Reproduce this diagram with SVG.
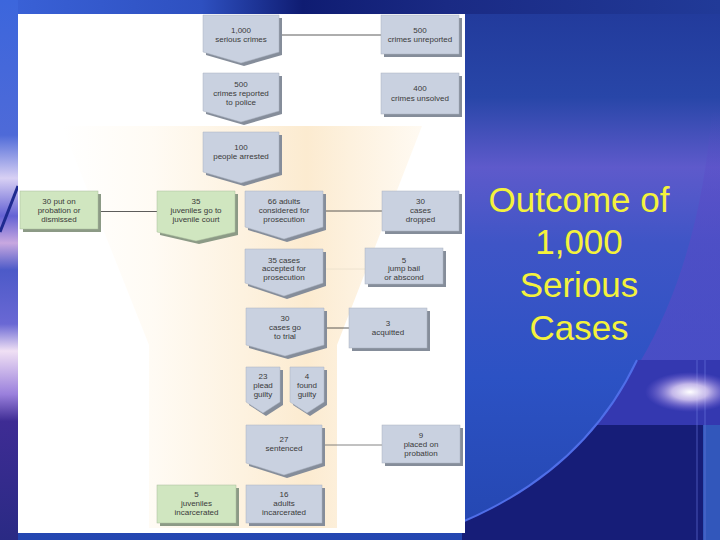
<svg xmlns="http://www.w3.org/2000/svg" width="720" height="540" viewBox="0 0 720 540">
<defs>
<style>
.box{fill:#c9d1e0;stroke:#aab2c0;stroke-width:0.5}
.gbox{fill:#d0e6c0;stroke:#a8bc9c;stroke-width:0.5}
.sh{fill:#858d9a}
.gsh{fill:#8c9a86}
.t{font-family:"Liberation Sans",Arial,sans-serif;font-size:8px;fill:#3a3a3a;text-anchor:middle}
.conn{stroke:#333;stroke-width:0.8;fill:none}
.title{font-family:"Liberation Sans",Arial,sans-serif;font-size:35px;fill:#f4f23c;text-anchor:middle}
</style>
<linearGradient id="bg" x1="0" y1="0" x2="0" y2="1">
<stop offset="0" stop-color="#21399a"/>
<stop offset="0.18" stop-color="#2846a8"/>
<stop offset="0.31" stop-color="#5e5acb"/>
<stop offset="0.45" stop-color="#3f55c6"/>
<stop offset="0.7" stop-color="#2c52c4"/>
<stop offset="1" stop-color="#2446b0"/>
</linearGradient>
<linearGradient id="leftStrip" x1="0" y1="0" x2="0" y2="1">
<stop offset="0" stop-color="#3c66dc"/>
<stop offset="0.25" stop-color="#4e6ad8"/>
<stop offset="0.33" stop-color="#d8d0f4"/>
<stop offset="0.4" stop-color="#6462d4"/>
<stop offset="0.45" stop-color="#c8a8e0"/>
<stop offset="0.5" stop-color="#4c5ac8"/>
<stop offset="0.6" stop-color="#6a68d4"/>
<stop offset="0.65" stop-color="#f0e0f4"/>
<stop offset="0.73" stop-color="#9a80dc"/>
<stop offset="0.78" stop-color="#3e2c94"/>
<stop offset="1" stop-color="#2a2a84"/>
</linearGradient>
<linearGradient id="topStrip" x1="0" y1="0" x2="1" y2="0">
<stop offset="0" stop-color="#3a62d8"/>
<stop offset="0.28" stop-color="#2e50c0"/>
<stop offset="0.42" stop-color="#0f1c72"/>
<stop offset="0.62" stop-color="#1a2a84"/>
<stop offset="1" stop-color="#213a98"/>
</linearGradient>
<linearGradient id="funnel" gradientUnits="userSpaceOnUse" x1="62" y1="0" x2="422" y2="0">
<stop offset="0" stop-color="#ffffff"/>
<stop offset="0.25" stop-color="#fffbf4"/>
<stop offset="0.5" stop-color="#fdf2e0"/>
<stop offset="0.68" stop-color="#fcebd0"/>
<stop offset="0.8" stop-color="#fdf1de"/>
<stop offset="1" stop-color="#fffaf2"/>
</linearGradient>
<linearGradient id="purpleSide" x1="0" y1="0" x2="0" y2="1">
<stop offset="0" stop-color="#5a4ac6" stop-opacity="0"/>
<stop offset="0.35" stop-color="#5a4ac6" stop-opacity="0.5"/>
<stop offset="1" stop-color="#5a4ac6" stop-opacity="0.6"/>
</linearGradient>
<radialGradient id="glare" cx="0.5" cy="0.5" r="0.5">
<stop offset="0" stop-color="#ffffff" stop-opacity="1"/>
<stop offset="0.4" stop-color="#e8d8f8" stop-opacity="0.8"/>
<stop offset="1" stop-color="#8a70e0" stop-opacity="0"/>
</radialGradient>
<clipPath id="arcClip">
<path d="M637,360 Q585,470 462,522 L462,540 L720,540 L720,360 Z"/>
</clipPath>
</defs>

<!-- background -->
<rect x="0" y="0" width="720" height="540" fill="url(#bg)"/>
<path d="M712,110 Q700,260 640,362 L720,362 L720,110 Z" fill="url(#purpleSide)"/>
<path d="M637,360 Q585,470 462,522 L462,540 L720,540 L720,360 Z" fill="#3438b0"/>
<rect x="462" y="425" width="258" height="115" fill="#161d78" clip-path="url(#arcClip)"/>
<path d="M637,360 Q585,470 462,522" stroke="#4f6ee8" stroke-width="2" fill="none"/>
<rect x="703" y="425" width="17" height="115" fill="#3a66cc" opacity="0.8"/>
<line x1="697" y1="360" x2="697" y2="540" stroke="#6a7ae0" stroke-width="1" opacity="0.6"/>
<line x1="705" y1="360" x2="705" y2="540" stroke="#6a7ae0" stroke-width="1" opacity="0.6"/>
<ellipse cx="690" cy="392" rx="45" ry="20" fill="url(#glare)"/>
<rect x="0" y="0" width="720" height="14" fill="url(#topStrip)"/>
<rect x="0" y="0" width="18" height="540" fill="url(#leftStrip)"/>
<line x1="0" y1="232" x2="18" y2="186" stroke="#1e2a90" stroke-width="3"/>

<!-- white panel and funnel -->
<rect x="18" y="14" width="447" height="519" fill="#ffffff"/>
<polygon points="62,126 422,126 337,345 337,528 149,528 149,345" fill="url(#funnel)"/>

<!-- connectors -->
<g id="connectors">
<line class="conn" x1="281" y1="35" x2="381" y2="35"/>
<line class="conn" x1="98" y1="211.5" x2="157" y2="211.5"/>
<line class="conn" x1="323" y1="211" x2="382" y2="211"/>
<line x1="323" y1="269" x2="365" y2="269" stroke="#eadfcc" stroke-width="0.8"/>
<line class="conn" x1="324" y1="328" x2="349" y2="328"/>
<line x1="322" y1="445" x2="382" y2="445" stroke="#666" stroke-width="0.8"/>
</g>

<!-- nodes -->
<g id="n-1000-serious">
<path class="sh" d="M206,18 h76 v37 l-38,11 l-38,-11 z"/>
<path class="box" d="M203,15 h76 v37 l-38,11 l-38,-11 z"/>
<text class="t" x="241" y="32.8">1,000</text>
<text class="t" x="241" y="41.8">serious crimes</text>
</g>
<g id="n-500-unreported">
<rect class="sh" x="384" y="18" width="78" height="39"/>
<rect class="box" x="381" y="15" width="78" height="39"/>
<text class="t" x="420" y="32.8">500</text>
<text class="t" x="420" y="41.8">crimes unreported</text>
</g>
<g id="n-500-reported">
<path class="sh" d="M206,76 h76 v38 l-38,11 l-38,-11 z"/>
<path class="box" d="M203,73 h76 v38 l-38,11 l-38,-11 z"/>
<text class="t" x="241" y="86.5">500</text>
<text class="t" x="241" y="95.8">crimes reported</text>
<text class="t" x="241" y="104.8">to police</text>
</g>
<g id="n-400-unsolved">
<rect class="sh" x="384" y="76" width="78" height="41"/>
<rect class="box" x="381" y="73" width="78" height="41"/>
<text class="t" x="420" y="90.8">400</text>
<text class="t" x="420" y="100.5">crimes unsolved</text>
</g>
<g id="n-100-arrested">
<path class="sh" d="M206,135 h76 v40 l-38,11 l-38,-11 z"/>
<path class="box" d="M203,132 h76 v40 l-38,11 l-38,-11 z"/>
<text class="t" x="241" y="149.8">100</text>
<text class="t" x="241" y="159">people arrested</text>
</g>
<g id="n-30-probation-dismissed">
<rect class="gsh" x="23" y="194" width="78" height="38"/>
<rect class="gbox" x="20" y="191" width="78" height="38"/>
<text class="t" x="59" y="203.5">30 put on</text>
<text class="t" x="59" y="212.7">probation or</text>
<text class="t" x="59" y="221.7">dismissed</text>
</g>
<g id="n-35-juveniles">
<path class="gsh" d="M160,194 h78 v41 l-39,9 l-39,-9 z"/>
<path class="gbox" d="M157,191 h78 v41 l-39,9 l-39,-9 z"/>
<text class="t" x="196" y="203.5">35</text>
<text class="t" x="196" y="212.7">juveniles go to</text>
<text class="t" x="196" y="221.7">juvenile court</text>
</g>
<g id="n-66-adults">
<path class="sh" d="M248,194 h78 v36 l-39,12 l-39,-12 z"/>
<path class="box" d="M245,191 h78 v36 l-39,12 l-39,-12 z"/>
<text class="t" x="284" y="203.5">66 adults</text>
<text class="t" x="284" y="212.7">considered for</text>
<text class="t" x="284" y="221.7">prosecution</text>
</g>
<g id="n-30-dropped">
<rect class="sh" x="385" y="194" width="77" height="40"/>
<rect class="box" x="382" y="191" width="77" height="40"/>
<text class="t" x="420.5" y="203.5">30</text>
<text class="t" x="420.5" y="212.7">cases</text>
<text class="t" x="420.5" y="221.7">dropped</text>
</g>
<g id="n-35-accepted">
<path class="sh" d="M248,252 h78 v34 l-39,13 l-39,-13 z"/>
<path class="box" d="M245,249 h78 v34 l-39,13 l-39,-13 z"/>
<text class="t" x="284" y="262.7">35 cases</text>
<text class="t" x="284" y="271.3">accepted for</text>
<text class="t" x="284" y="280.2">prosecution</text>
</g>
<g id="n-5-bail">
<rect class="sh" x="368" y="251" width="78" height="36"/>
<rect class="box" x="365" y="248" width="78" height="36"/>
<text class="t" x="404" y="262.7">5</text>
<text class="t" x="404" y="271.3">jump bail</text>
<text class="t" x="404" y="280.2">or abscond</text>
</g>
<g id="n-30-trial">
<path class="sh" d="M249,311 h78 v37 l-39,11 l-39,-11 z"/>
<path class="box" d="M246,308 h78 v37 l-39,11 l-39,-11 z"/>
<text class="t" x="285" y="320.7">30</text>
<text class="t" x="285" y="329.7">cases go</text>
<text class="t" x="285" y="338.7">to trial</text>
</g>
<g id="n-3-acquitted">
<rect class="sh" x="352" y="311" width="78" height="40"/>
<rect class="box" x="349" y="308" width="78" height="40"/>
<text class="t" x="388" y="325.7">3</text>
<text class="t" x="388" y="334.7">acquitted</text>
</g>
<g id="n-23-plead">
<path class="sh" d="M249,370 h34 v35 l-17,11 l-17,-11 z"/>
<path class="box" d="M246,367 h34 v35 l-17,11 l-17,-11 z"/>
<text class="t" x="263" y="379.4">23</text>
<text class="t" x="263" y="388.4">plead</text>
<text class="t" x="263" y="397.3">guilty</text>
</g>
<g id="n-4-found">
<path class="sh" d="M293,370 h34 v35 l-17,11 l-17,-11 z"/>
<path class="box" d="M290,367 h34 v35 l-17,11 l-17,-11 z"/>
<text class="t" x="307" y="379.4">4</text>
<text class="t" x="307" y="388.4">found</text>
<text class="t" x="307" y="397.3">guilty</text>
</g>
<g id="n-27-sentenced">
<path class="sh" d="M249,428 h76 v38 l-38,12 l-38,-12 z"/>
<path class="box" d="M246,425 h76 v38 l-38,12 l-38,-12 z"/>
<text class="t" x="284" y="442.4">27</text>
<text class="t" x="284" y="451.4">sentenced</text>
</g>
<g id="n-9-probation">
<rect class="sh" x="385" y="428" width="78" height="38"/>
<rect class="box" x="382" y="425" width="78" height="38"/>
<text class="t" x="421" y="438.3">9</text>
<text class="t" x="421" y="447.3">placed on</text>
<text class="t" x="421" y="455.9">probation</text>
</g>
<g id="n-5-juveniles-incarcerated">
<rect class="gsh" x="160" y="488" width="79" height="38"/>
<rect class="gbox" x="157" y="485" width="79" height="38"/>
<text class="t" x="196.5" y="496.5">5</text>
<text class="t" x="196.5" y="505.7">juveniles</text>
<text class="t" x="196.5" y="514.7">incarcerated</text>
</g>
<g id="n-16-adults-incarcerated">
<rect class="sh" x="249" y="488" width="76" height="38"/>
<rect class="box" x="246" y="485" width="76" height="38"/>
<text class="t" x="284" y="496.5">16</text>
<text class="t" x="284" y="505.7">adults</text>
<text class="t" x="284" y="514.7">incarcerated</text>
</g>

<!-- title -->
<g id="title">
<text class="title" x="579" y="212">Outcome of</text>
<text class="title" x="579" y="254">1,000</text>
<text class="title" x="579" y="297">Serious</text>
<text class="title" x="579" y="340">Cases</text>
</g>
</svg>
